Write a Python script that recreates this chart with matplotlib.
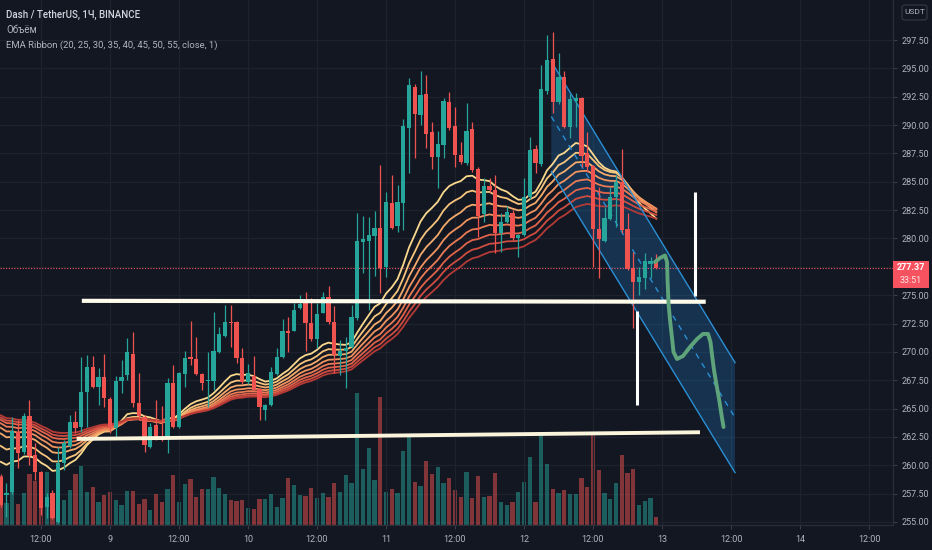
import numpy as np
import matplotlib
matplotlib.use("Agg")
import matplotlib.pyplot as plt
import matplotlib.transforms as mtransforms
from matplotlib.patches import Polygon, Rectangle, FancyBboxPatch

plt.rcParams['font.family'] = ['Roboto', 'DejaVu Sans']

BG    = '#131722'
GRID  = '#1e222d'
TXT   = '#b2b5be'
UP    = '#26a69a'
DN    = '#ef5350'
LAST  = '#f7525f'

# ── hourly candles, Dash/USDT (first bar = 8th 05:00) ──────────────────────
opens = [
    258.97, 257.38, 257.64, 262.93, 261.17, 264.34, 260.91, 259.40, 256.32, 257.55,
    255.00, 260.20, 261.70, 263.82, 263.37, 266.46, 268.66, 266.90, 267.78, 265.84,
    263.29, 267.43, 267.96, 269.81, 265.49, 264.26, 261.61, 263.55, 262.32, 262.32,
    267.25, 263.37, 268.05, 269.55, 269.37, 268.05, 267.43, 267.43, 269.99, 271.40,
    272.63, 272.63, 269.46, 267.34, 267.87, 266.73, 264.87, 265.31, 268.05, 269.55,
    271.84, 271.84, 273.87, 274.31, 272.54, 271.13, 273.43, 274.84, 272.63, 269.63,
    270.07, 270.43, 272.98, 279.69, 279.78, 280.22, 280.92, 277.48, 283.13, 281.10,
    283.13, 289.74, 293.35, 290.89, 292.74, 289.39, 287.18, 288.24, 292.03, 289.92,
    287.36, 286.65, 289.65, 286.13, 282.16, 284.63, 284.27, 280.48, 281.45, 282.24,
    280.04, 280.30, 283.65, 287.89, 286.57, 293.00, 295.82, 292.03, 294.24, 289.83,
    292.12, 292.39, 287.53, 286.39, 280.83, 279.78, 281.72, 283.65, 284.98, 280.83,
    277.39, 276.16, 276.51, 277.75, 278.10,
]
closes = [
    256.50, 257.55, 263.02, 261.09, 264.34, 260.82, 259.40, 256.23, 257.20, 255.35,
    260.20, 261.96, 263.82, 263.29, 266.46, 268.66, 266.90, 267.78, 265.93, 263.37,
    267.43, 267.78, 269.99, 265.49, 264.34, 261.79, 263.37, 262.32, 262.23, 267.25,
    263.37, 268.13, 269.46, 269.37, 268.05, 267.25, 267.52, 270.07, 271.58, 272.63,
    272.54, 269.46, 267.34, 268.13, 266.64, 265.14, 265.31, 268.22, 269.55, 271.84,
    271.66, 273.69, 274.22, 272.54, 271.13, 273.34, 274.84, 272.63, 269.72, 270.07,
    270.34, 273.07, 279.78, 279.95, 280.30, 280.92, 277.39, 283.21, 280.92, 283.21,
    289.92, 293.53, 290.97, 292.65, 289.21, 287.18, 288.33, 292.12, 289.74, 287.36,
    286.74, 289.48, 286.04, 281.98, 284.63, 284.27, 280.48, 281.45, 282.33, 280.04,
    280.30, 283.65, 287.80, 286.65, 293.18, 295.74, 292.03, 294.24, 289.83, 292.30,
    292.39, 287.27, 286.30, 280.83, 279.95, 281.80, 283.65, 284.98, 280.75, 277.31,
    276.16, 276.60, 278.01, 278.01, 277.37,
]
highs = [
    259.20, 258.44, 264.26, 263.99, 264.60, 265.75, 261.96, 259.50, 257.55, 257.80,
    261.60, 262.23, 264.40, 264.80, 269.55, 269.72, 269.63, 268.60, 269.81, 266.00,
    267.87, 269.30, 271.22, 271.75, 268.13, 264.40, 263.70, 265.75, 265.23, 267.70,
    268.84, 268.20, 270.07, 272.72, 271.31, 268.10, 269.99, 273.51, 272.20, 274.13,
    274.13, 272.70, 270.34, 268.90, 269.63, 266.80, 265.40, 268.66, 270.34, 272.90,
    273.07, 274.31, 275.01, 275.28, 274.75, 274.31, 275.28, 275.81, 274.00, 271.05,
    271.31, 274.13, 282.24, 281.98, 281.90, 282.42, 286.48, 284.10, 285.60, 284.70,
    290.53, 294.15, 293.60, 294.77, 294.41, 290.30, 289.48, 292.39, 292.91, 291.60,
    288.50, 291.94, 290.30, 286.30, 285.33, 285.33, 285.60, 282.24, 282.85, 282.50,
    280.40, 285.33, 288.95, 288.24, 295.30, 297.94, 298.20, 296.35, 294.77, 292.74,
    292.83, 292.50, 289.39, 286.50, 284.54, 282.78, 284.54, 285.60, 287.89, 282.24,
    278.80, 277.48, 278.72, 278.37, 278.60,
]
lows = [
    256.30, 255.44, 257.50, 259.75, 261.00, 260.00, 258.70, 255.61, 255.35, 255.30,
    254.90, 259.60, 261.50, 262.85, 262.93, 263.37, 266.80, 265.30, 265.14, 262.85,
    262.50, 266.37, 267.52, 265.14, 263.99, 261.17, 261.50, 262.20, 262.10, 261.09,
    263.30, 263.30, 266.90, 268.84, 268.00, 266.64, 265.14, 266.64, 269.90, 271.30,
    270.43, 269.00, 267.20, 267.20, 266.60, 263.99, 263.99, 265.20, 268.00, 269.50,
    269.99, 271.80, 273.80, 270.10, 271.00, 270.34, 273.40, 272.50, 268.13, 267.96,
    266.81, 270.30, 272.80, 276.95, 273.69, 276.70, 275.20, 276.60, 280.80, 280.60,
    280.75, 285.77, 287.09, 290.00, 287.98, 286.13, 284.45, 287.09, 289.60, 286.30,
    286.60, 286.48, 285.90, 280.13, 281.45, 284.10, 278.72, 278.80, 281.40, 279.86,
    278.37, 280.20, 283.50, 285.77, 286.40, 292.74, 291.10, 291.90, 289.70, 288.86,
    289.83, 286.30, 285.86, 277.48, 276.51, 279.70, 281.60, 281.00, 280.48, 277.20,
    272.10, 275.00, 275.50, 276.50, 277.30,
]
volumes = [
    49.0, 21.7, 35.0, 21.0, 31.7, 51.0, 44.3, 21.7, 53.3, 27.7,
    51.7, 25.0, 35.0, 51.0, 59.0, 33.3, 37.7, 22.7, 30.0, 32.7,
    25.0, 20.0, 34.3, 34.3, 21.0, 25.7, 15.0, 31.0, 22.7, 35.7,
    49.7, 22.7, 40.7, 46.0, 27.7, 36.0, 35.7, 48.3, 37.0, 31.0,
    25.0, 24.0, 25.0, 16.7, 15.7, 25.7, 25.7, 31.0, 17.7, 27.3,
    46.7, 40.0, 30.0, 29.3, 37.3, 26.7, 31.7, 27.7, 41.7, 33.3,
    50.0, 41.7, 131.7, 56.0, 76.7, 45.0, 128.3, 33.3, 35.7, 31.7,
    74.0, 90.0, 43.3, 39.0, 64.3, 50.7, 57.7, 41.7, 46.7, 35.0,
    27.7, 53.3, 27.3, 49.0, 28.3, 29.0, 51.7, 23.3, 20.0, 23.3,
    33.3, 42.7, 68.3, 22.7, 92.3, 61.0, 36.0, 32.3, 35.0, 31.0,
    31.0, 46.7, 37.7, 92.3, 55.0, 31.7, 26.0, 41.7, 70.0, 51.7,
    55.7, 20.0, 24.3, 27.3, 8.3,
]

# EMA ribbon settings and values at the first visible bar
EMA_LENGTHS = [20, 25, 30, 35, 40, 45, 50, 55]
EMA_START   = [260.3, 261.7, 262.8, 263.3, 263.7, 264.0, 264.2, 264.4]
EMA_COLORS  = ['#fad98e', '#f7c47c', '#f4ab6c', '#f0935f', '#ea7b54',
               '#e0634a', '#cf4d40', '#b43a36']

LAST_PRICE = 277.37
COUNTDOWN  = '33:51'

PRICE_TICKS = [255.0 + 2.5 * k for k in range(18)]
TIME_TICKS  = [12, 24, 36, 48, 60, 72, 84, 96, 108, 120, 132, 144, 156]
TIME_LABELS = ['12:00', '9', '12:00', '10', '12:00', '11', '12:00',
               '12', '12:00', '13', '12:00', '14', '12:00']

# drawings (x = hours from 8th 00:00, y = price)
LEVEL_HI   = ([19.1, 127.6], [274.50, 274.42])
LEVEL_LO   = ([18.2, 126.6], [262.32, 262.91])
VLINE_R    = ([125.7, 125.7], [284.07, 274.90])
VLINE_L    = ([115.6, 115.6], [273.60, 265.30])
CH_X       = [100.75, 132.7]
CH_TOP     = [295.60, 269.05]
CH_BOT     = [285.90, 259.35]
PATH_X = [118.78, 119.65, 120.52, 120.87, 120.96, 121.13, 121.39, 121.74, 122.00,
          122.61, 123.65, 124.87, 126.09, 127.13, 128.00, 128.43, 128.70, 129.04,
          129.48, 130.00, 130.43, 130.70]
PATH_Y = [277.92, 278.28, 278.50, 277.92, 276.34, 274.31, 272.81, 271.22, 269.99,
          269.37, 269.63, 270.43, 271.13, 271.58, 271.58, 270.87, 269.72, 268.40,
          267.08, 265.58, 264.17, 263.37]


def ema(values, n, start):
    a = 2.0 / (n + 1)
    out = [start]
    for v in values[1:]:
        out.append(out[-1] + a * (v - out[-1]))
    return np.array(out)


o = np.array(opens); c = np.array(closes)
h = np.array(highs); l = np.array(lows)
hours = np.arange(len(c)) + 5
cols = [UP if cc >= oo else DN for oo, cc in zip(o, c)]

W, H = 932, 550
fig = plt.figure(figsize=(W / 100, H / 100), dpi=100, facecolor=BG)
rect = [0, 25 / H, 893 / W, 525 / H]
axv = fig.add_axes(rect)
ax  = fig.add_axes(rect, sharex=axv)
axv.set_facecolor(BG)
ax.patch.set_alpha(0)

ax.set_xlim(4.87, 160.17)
ax.set_ylim(254.73, 301.03)
axv.set_ylim(0, 525)

# grid
axv.set_xticks(TIME_TICKS)
axv.grid(axis='x', color=GRID, lw=0.9)
tr_h = mtransforms.blended_transform_factory(axv.transAxes, ax.transData)
for p in PRICE_TICKS:
    axv.plot([0, 1], [p, p], transform=tr_h, color=GRID, lw=0.9, zorder=0)
axv.tick_params(bottom=False, labelbottom=False, left=False, labelleft=False)
for s in axv.spines.values():
    s.set_visible(False)

# volume
axv.bar(hours, volumes, width=0.74, color=cols, alpha=0.5, linewidth=0)

# EMA ribbon
for n, s0, col in zip(EMA_LENGTHS, EMA_START, EMA_COLORS):
    ax.plot(hours, ema(c, n, s0), color=col, lw=1.3, zorder=2)

# channel
poly = Polygon([(CH_X[0], CH_TOP[0]), (CH_X[1], CH_TOP[1]),
                (CH_X[1], CH_BOT[1]), (CH_X[0], CH_BOT[0])],
               closed=True, facecolor='#2196f3', alpha=0.22, edgecolor='none', zorder=1)
ax.add_patch(poly)
ax.plot(CH_X, CH_TOP, color='#2a8fd4', lw=1.0, zorder=2.5)
ax.plot(CH_X, CH_BOT, color='#2a8fd4', lw=1.0, zorder=2.5)
ax.plot(CH_X, [(a + b) / 2 for a, b in zip(CH_TOP, CH_BOT)],
        color='#2a8fd4', lw=1.0, ls=(0, (4, 4)), zorder=2.5)

# candles
ax.vlines(hours, l, h, colors=cols, lw=0.9, zorder=3)
ax.bar(hours, np.maximum(np.abs(c - o), 0.07), bottom=np.minimum(o, c),
       width=0.72, color=cols, linewidth=0, zorder=4)

# last price line
ax.axhline(LAST_PRICE, color=LAST, lw=0.8, ls=(0, (1, 1.5)), zorder=1.5)

# hand drawings
ax.plot(*LEVEL_HI, color='#fffbea', lw=3.0, solid_capstyle='butt', zorder=6)
ax.plot(*LEVEL_LO, color='#fbf5dc', lw=2.8, solid_capstyle='butt', zorder=6)
ax.plot(*VLINE_R, color='white', lw=2.2, solid_capstyle='butt', zorder=6)
ax.plot(*VLINE_L, color='white', lw=2.2, solid_capstyle='butt', zorder=6)
ax.plot(PATH_X, PATH_Y, color='#5fa37b', lw=2.8, solid_capstyle='round',
        solid_joinstyle='round', zorder=6)

# axes styling; the scale hides the label that sits under the last-price badge
ax.yaxis.tick_right()
ax.set_yticks(PRICE_TICKS)
ax.set_yticklabels(["" if abs(p - LAST_PRICE) < 1.5 else f"{p:.2f}"
                    for p in PRICE_TICKS])
ax.set_xticks(TIME_TICKS)
ax.set_xticklabels(TIME_LABELS)
ax.tick_params(axis='y', colors='#3c404b', labelcolor=TXT, labelsize=6.5,
               length=3, width=0.7, pad=3)
ax.tick_params(axis='x', colors='#3c404b', labelcolor=TXT, labelsize=6.5,
               length=3, width=0.7, pad=4)
for side in ['top', 'left']:
    ax.spines[side].set_visible(False)
for side in ['right', 'bottom']:
    ax.spines[side].set_color('#2a2e39')
    ax.spines[side].set_linewidth(0.9)

# last price label on the scale
tr_p = mtransforms.blended_transform_factory(fig.transFigure, ax.transData)
ax.add_patch(Rectangle((893 / W, 275.66), 36 / W, 2.39, transform=tr_p,
                       facecolor=LAST, edgecolor='none', clip_on=False, zorder=10))
ax.text(911 / W, LAST_PRICE + 0.05, f"{LAST_PRICE:.2f}", transform=tr_p,
        ha='center', va='center', color='white', fontsize=6.5, fontweight='bold',
        zorder=11, clip_on=False)
ax.text(911 / W, 276.30, COUNTDOWN, transform=tr_p, ha='center', va='center',
        color='#fde6e6', fontsize=6.5, zorder=11, clip_on=False)

# currency badge
fig.add_artist(FancyBboxPatch((902 / W, 1 - 20 / H), 25 / W, 15 / H,
                              boxstyle='round,pad=0,rounding_size=0.004',
                              transform=fig.transFigure, facecolor=BG,
                              edgecolor='#363a45', lw=0.8))
fig.text(914.5 / W, 1 - 12.5 / H, 'USDT', ha='center', va='center',
         color=TXT, fontsize=6)

# legend
fig.text(6 / W, 1 - 15 / H, 'Dash / TetherUS, 1Ч, BINANCE', ha='left', va='center',
         color='#d1d4dc', fontsize=7, fontweight='medium')
fig.text(6 / W, 1 - 30 / H, 'Объём', ha='left', va='center', color=TXT, fontsize=7)
fig.text(6 / W, 1 - 45 / H, 'EMA Ribbon (20, 25, 30, 35, 40, 45, 50, 55, close, 1)',
         ha='left', va='center', color=TXT, fontsize=6.8)

fig.savefig('out.png', dpi=100, facecolor=BG)
